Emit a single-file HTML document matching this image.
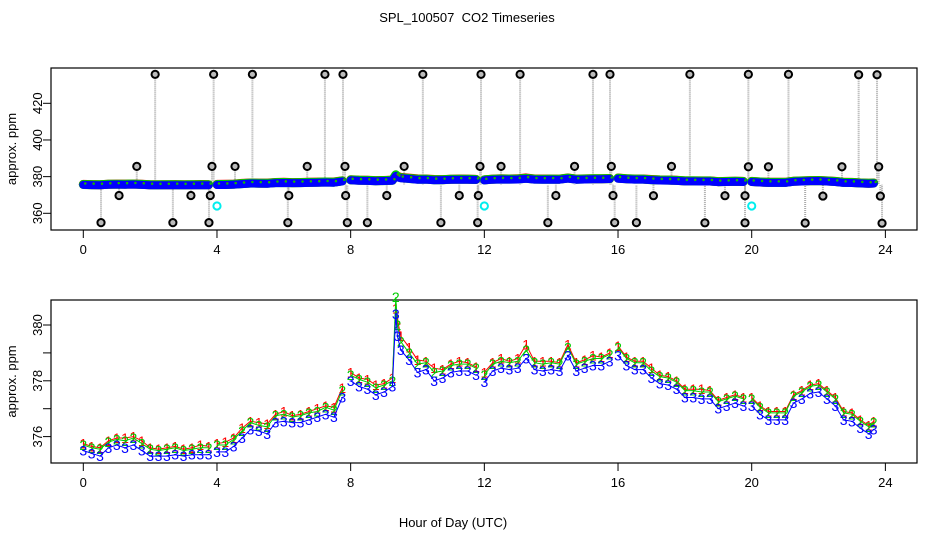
<!DOCTYPE html>
<html><head><meta charset="utf-8"><style>
html,body{margin:0;padding:0;background:#fff;}
svg{display:block;font-family:"Liberation Sans",sans-serif;}
</style></head><body>
<svg id="chart" width="936" height="540" viewBox="0 0 936 540" xmlns="http://www.w3.org/2000/svg">
<rect width="936" height="540" fill="#fff"/>
<text x="467" y="22" font-size="13" text-anchor="middle" style="white-space:pre">SPL_100507  CO2 Timeseries</text>
<text x="453" y="527" font-size="13" text-anchor="middle">Hour of Day (UTC)</text>
<g id="top"></g>
<g id="bot"></g>
</svg>
<script>
const hours=[0,0.25,0.5,0.75,1,1.25,1.5,1.75,2,2.25,2.5,2.75,3,3.25,3.5,3.75,3.9,4,4.25,4.5,4.75,5,5.25,5.5,5.75,6,6.25,6.5,6.75,7,7.25,7.5,7.75,7.9,8,8.25,8.5,8.75,9,9.25,9.35,9.4,9.5,9.75,10,10.25,10.5,10.75,11,11.25,11.5,11.75,11.9,12,12.25,12.5,12.75,13,13.25,13.5,13.75,14,14.25,14.5,14.75,15,15.25,15.5,15.75,15.9,16,16.25,16.5,16.75,17,17.25,17.5,17.75,18,18.25,18.5,18.75,19,19.25,19.5,19.75,19.9,20,20.25,20.5,20.75,21,21.25,21.5,21.75,22,22.25,22.5,22.75,23,23.25,23.5,23.65];
const series3=[375.5,375.4,375.3,375.6,375.7,375.6,375.7,375.5,375.3,375.3,375.3,375.35,375.3,375.35,375.35,375.35,null,375.45,375.45,375.65,375.95,376.25,376.2,376.1,376.5,376.55,376.5,376.5,376.6,376.7,376.8,376.7,377.4,null,378.0,377.8,377.7,377.5,377.6,377.8,380.4,379.6,379.1,378.75,378.3,378.4,378.0,378.1,378.3,378.35,378.35,378.2,null,377.95,378.35,378.45,378.4,378.45,378.8,378.4,378.35,378.4,378.35,378.9,378.35,378.45,378.55,378.55,378.7,null,378.9,378.55,378.4,378.4,378.1,377.9,377.85,377.7,377.4,377.4,377.35,377.35,377.0,377.1,377.2,377.1,null,377.1,376.8,376.6,376.6,376.6,377.2,377.35,377.55,377.6,377.35,377.1,376.6,376.55,376.3,376.1,376.25];
const series2=[375.7,375.6,375.55,375.8,375.9,375.85,375.95,375.75,375.55,375.5,375.55,375.6,375.5,375.55,375.6,375.6,null,375.7,375.7,375.9,376.2,376.5,376.4,376.35,376.75,376.8,376.7,376.75,376.85,376.9,377.05,376.95,377.65,null,378.2,378.05,377.95,377.75,377.85,378.0,381.0,380.0,379.4,379.0,378.6,378.65,378.3,378.35,378.55,378.6,378.6,378.45,null,378.2,378.6,378.7,378.65,378.7,379.1,378.65,378.6,378.65,378.6,379.2,378.6,378.7,378.8,378.8,378.95,null,379.2,378.8,378.65,378.65,378.35,378.15,378.1,377.95,377.65,377.65,377.6,377.6,377.25,377.35,377.45,377.35,null,377.35,377.05,376.85,376.85,376.85,377.45,377.6,377.8,377.85,377.6,377.35,376.85,376.8,376.55,376.35,376.5];
const series1=[375.75,375.65,375.6,375.85,375.95,375.95,376.0,375.85,375.6,375.55,375.6,375.65,375.55,375.6,375.7,375.65,null,375.75,375.8,375.95,376.3,376.55,376.5,376.45,376.8,376.9,376.75,376.8,376.9,377.0,377.1,377.05,377.75,null,378.3,378.1,378.05,377.85,377.9,378.1,380.6,380.2,379.6,379.2,378.75,378.7,378.45,378.4,378.6,378.7,378.65,378.5,null,378.3,378.65,378.8,378.7,378.8,379.3,378.7,378.7,378.7,378.65,379.3,378.65,378.75,378.9,378.85,379.0,null,379.25,378.85,378.7,378.7,378.45,378.2,378.15,378.0,377.7,377.7,377.7,377.65,377.3,377.4,377.5,377.4,null,377.4,377.1,376.9,376.9,376.9,377.5,377.65,377.85,377.9,377.65,377.4,376.9,376.85,376.6,376.4,376.55];
const outlierHours=[2.15,3.9,5.06,7.23,7.77,10.16,11.9,13.07,15.25,15.76,18.15,19.9,21.1,23.2,23.75,1.6,3.85,4.54,6.7,7.83,9.6,11.87,12.5,14.7,15.8,17.6,19.9,20.5,22.7,23.8,1.07,3.22,3.8,6.15,7.85,9.08,11.25,11.82,14.14,15.85,17.06,19.2,19.8,22.13,23.85,0.53,2.68,3.76,6.12,7.9,8.5,10.7,11.8,13.9,15.9,16.55,18.6,19.8,21.6,23.9];
const outlierValues=[435.8,435.8,435.8,435.8,435.8,435.8,435.8,435.8,435.8,435.8,435.8,435.8,435.8,435.6,435.6,385.6,385.6,385.6,385.6,385.6,385.6,385.6,385.6,385.6,385.6,385.6,385.4,385.4,385.4,385.4,369.7,369.7,369.7,369.7,369.7,369.7,369.7,369.7,369.7,369.7,369.6,369.6,369.6,369.4,369.4,354.9,354.9,354.9,354.9,354.9,354.9,354.9,354.9,354.9,354.9,354.9,354.8,354.8,354.7,354.6];
const cyanHours=[4.0,12.0,20.0];
const cyanValues=[364,364,364];
const xTicks=[0,4,8,12,16,20,24];
const topYTicks=[360,380,400,420];
const botYTicks=[376,377,378,379,380];
const botYLabels=[376,378,380];

const NS="http://www.w3.org/2000/svg";
function mk(p,t,a){const e=document.createElementNS(NS,t);for(const k in a)e.setAttribute(k,a[k]);p.appendChild(e);return e;}
const L=51,R=917;
const xs=h=>83.3+h*33.42;
const topY=v=>213.3-(v-360)*1.8333;
const botY=v=>325-(v-380)*27.9;

function axes(g,top,bot,yf,yticks,ylabels){
  let e=mk(g,'rect',{x:L,y:top,width:R-L,height:bot-top,fill:'none',stroke:'#000','stroke-width':1.2});
  
  xTicks.forEach(t=>{
    const l=mk(g,'line',{x1:xs(t),x2:xs(t),y1:bot,y2:bot+8,stroke:'#000'});
    
    const tx=mk(g,'text',{x:xs(t),y:bot+24,'font-size':13,'text-anchor':'middle'});tx.textContent=t;
    
  });
  yticks.forEach(t=>{
    const l=mk(g,'line',{x1:L-8,x2:L,y1:yf(t),y2:yf(t),stroke:'#000'});
    
  });
  ylabels.forEach(t=>{
    const tx=mk(g,'text',{x:0,y:0,'font-size':13,'text-anchor':'middle',transform:`translate(42,${yf(t)}) rotate(-90)`});tx.textContent=t;
    
  });
  const yl=mk(g,'text',{x:0,y:0,'font-size':13,'text-anchor':'middle',transform:`translate(16,${(top+bot)/2}) rotate(-90)`});yl.textContent='approx. ppm';
  
}
function path(arr,yf){let d='',pen=false;arr.forEach((v,i)=>{if(v==null){pen=false;return;}d+=(pen?'L':'M')+xs(hours[i]).toFixed(1)+' '+yf(v).toFixed(1);pen=true;});return d;}

// top panel
const gt=document.getElementById('top');
axes(gt,68,230,topY,topYTicks,topYTicks);
outlierHours.forEach((h,i)=>{
  const l=mk(gt,'line',{x1:xs(h),x2:xs(h),y1:topY(outlierValues[i]),y2:topY(375.6),stroke:'#aaa','stroke-width':2,'stroke-dasharray':'1 1'});
  
});
[[series1,'#f00'],[series2,'#0c0'],[series3,'#00f']].forEach(([s,c],k)=>{
  const p=mk(gt,'path',{d:path(s,topY),fill:'none',stroke:c,'stroke-width':k==2?8:9,'stroke-linecap':'round','stroke-linejoin':'round'});
  
});
[[series1,'#f00'],[series2,'#0c0']].forEach(([s,c])=>{
  s.forEach((v,i)=>{if(v==null)return;
    const d=mk(gt,'circle',{cx:xs(hours[i])+2,cy:topY(v)-1,r:1.2,fill:c});
    });
});
outlierHours.forEach((h,i)=>{
  const c=mk(gt,'circle',{cx:xs(h),cy:topY(outlierValues[i]),r:3.6,fill:'#bbb',stroke:'#000','stroke-width':2});
  
});
cyanHours.forEach((h,i)=>{
  const c=mk(gt,'circle',{cx:xs(h),cy:topY(cyanValues[i]),r:3.6,fill:'none',stroke:'#0ee','stroke-width':2});
  
});

// bottom panel
const gb=document.getElementById('bot');
axes(gb,300,463,botY,botYTicks,botYLabels);
[[series1,'#f00','1'],[series2,'#0c0','2'],[series3,'#00f','3']].forEach(([s,c,ch],k)=>{
  const p=mk(gb,'path',{d:path(s,botY),fill:'none',stroke:c,'stroke-width':1});
  
  s.forEach((v,i)=>{if(v==null)return;
    const t=mk(gb,'text',{x:xs(hours[i]),y:botY(v)+5,'font-size':14,'text-anchor':'middle',fill:c});t.textContent=ch;
    });
});
</script>
</body></html>
